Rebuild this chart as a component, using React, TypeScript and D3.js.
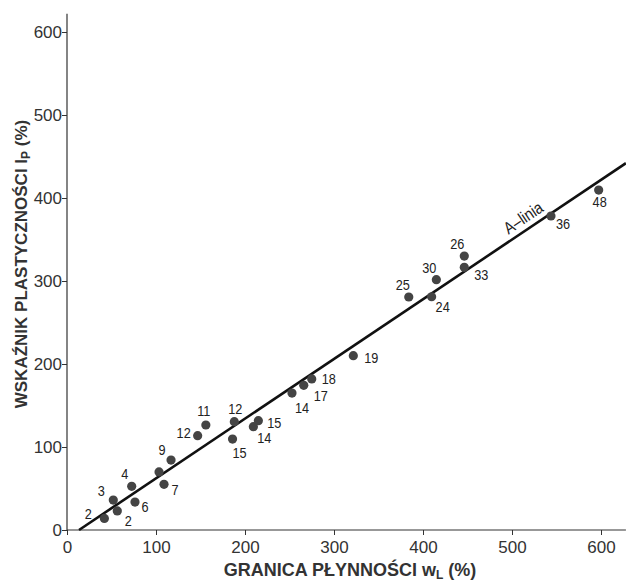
import { useEffect, useRef } from 'react';
import * as d3 from 'd3';

// liquid limit wL (%) and plasticity index Ip (%)
const liquidLimit = [42, 52, 56.5, 72.7, 76.4, 103.4, 116.9, 109, 146.8, 156, 188, 186, 209.4, 215, 252.8, 266, 275, 321.7, 384, 409.7, 415, 446.4, 446.4, 543.8, 597.4];
const plasticityIndex = [14, 36, 23, 52.6, 33.7, 70, 84.3, 55, 113.6, 126.5, 130.5, 109.6, 124.5, 131.7, 165, 174.3, 182, 210, 280.7, 281, 301.6, 316.5, 330, 378.3, 409.6];
const pointLabels = ['2', '3', '2', '4', '6', '', '9', '7', '12', '11', '12', '15', '14', '15', '14', '17', '18', '19', '25', '24', '30', '33', '26', '36', '48'];
const tickValues = [0, 100, 200, 300, 400, 500, 600];

// A-line end points (wL, Ip)
const aLine: [number, number][] = [[13.5, 0], [628, 442]];

// label nudges in px relative to the dot
const labelNudge: [number, number][] = [
  [-16, -5], [-12, -10], [11, 10], [-7, -13], [10, 5], [0, 0], [-9, -10], [11, 5],
  [-14, -3], [-2, -14], [1, -13], [7, 14], [11, 11], [16, 2], [10, 14], [17, 10],
  [17, 0], [18, 2], [-6, -12], [11, 10], [-7, -12], [17, 7], [-7, -13], [12, 8], [1, 12],
];

export default function App() {
  const svgRef = useRef<SVGSVGElement | null>(null);

  useEffect(() => {
    if (!svgRef.current) return;
    const svg = d3.select(svgRef.current);
    svg.selectAll('*').remove();

    const x = d3.scaleLinear().domain([0, 600]).range([67, 601]);
    const y = d3.scaleLinear().domain([0, 600]).range([530, 32]);
    const axisColor = '#333';
    const font = '"Liberation Sans", Arial, sans-serif';

    // axes
    const gx = svg.append('g').attr('transform', `translate(0,${y(0)})`)
      .call(d3.axisBottom(x).tickValues(tickValues).tickSize(5).tickSizeOuter(0).tickFormat(d3.format('d')));
    gx.select('.domain').remove();
    gx.selectAll('line').attr('stroke', axisColor);
    gx.selectAll('text').attr('font-family', font).attr('font-size', 17).attr('fill', axisColor).attr('dy', '0.9em');

    const gy = svg.append('g').attr('transform', `translate(${x(0)},0)`)
      .call(d3.axisLeft(y).tickValues(tickValues).tickSize(5).tickSizeOuter(0).tickFormat(d3.format('d')));
    gy.select('.domain').remove();
    gy.selectAll('line').attr('stroke', axisColor);
    gy.selectAll('text').attr('font-family', font).attr('font-size', 17).attr('fill', axisColor).attr('x', -5);

    svg.append('line')
      .attr('x1', x(0)).attr('x2', x(628)).attr('y1', y(0)).attr('y2', y(0))
      .attr('stroke', axisColor).attr('stroke-width', 1.2);
    svg.append('line')
      .attr('x1', x(0)).attr('x2', x(0)).attr('y1', y(0)).attr('y2', y(622))
      .attr('stroke', axisColor).attr('stroke-width', 1.2);

    // A-line
    svg.append('path')
      .attr('d', d3.line<[number, number]>().x(d => x(d[0])).y(d => y(d[1]))(aLine))
      .attr('stroke', '#111').attr('stroke-width', 2.6).attr('fill', 'none');

    const [p0, p1] = aLine;
    const angle = Math.atan2(y(p1[1]) - y(p0[1]), x(p1[0]) - x(p0[0])) * 180 / Math.PI;
    const labelWl = 520;
    const labelIp = p0[1] + (p1[1] - p0[1]) * (labelWl - p0[0]) / (p1[0] - p0[0]);
    svg.append('text')
      .attr('transform', `translate(${x(labelWl)},${y(labelIp)}) rotate(${angle}) scale(0.85,1)`)
      .attr('y', -6)
      .attr('text-anchor', 'middle')
      .attr('font-family', font).attr('font-size', 17).attr('fill', '#222')
      .text('A–linia');

    // points
    const pts = liquidLimit.map((v, i) => ({ wl: v, ip: plasticityIndex[i], label: pointLabels[i], nudge: labelNudge[i] }));
    svg.append('g').selectAll('circle').data(pts).join('circle')
      .attr('cx', d => x(d.wl)).attr('cy', d => y(d.ip)).attr('r', 4.6)
      .attr('fill', '#444');

    svg.append('g').selectAll('text').data(pts.filter(d => d.label)).join('text')
      .attr('transform', d => `translate(${x(d.wl) + d.nudge[0]},${y(d.ip) + d.nudge[1]}) scale(0.82,1)`)
      .attr('text-anchor', 'middle').attr('dominant-baseline', 'central')
      .attr('font-family', font).attr('font-size', 15.5).attr('fill', '#222')
      .text(d => d.label);

    // axis titles
    const xt = svg.append('text')
      .attr('x', 350).attr('y', 576).attr('text-anchor', 'middle')
      .attr('font-family', font).attr('font-weight', 'bold').attr('font-size', 18).attr('fill', '#333');
    xt.append('tspan').text('GRANICA PŁYNNOŚCI w');
    xt.append('tspan').attr('font-size', 12).attr('dy', 3).text('L');
    xt.append('tspan').attr('dy', -3).text(' (%)');

    const yt = svg.append('text')
      .attr('transform', 'translate(27,264) rotate(-90)').attr('text-anchor', 'middle')
      .attr('font-family', font).attr('font-weight', 'bold').attr('font-size', 17).attr('fill', '#333');
    yt.append('tspan').text('WSKAŹNIK PLASTYCZNOŚCI I');
    yt.append('tspan').attr('font-size', 12).attr('dy', 3).text('P');
    yt.append('tspan').attr('dy', -3).text(' (%)');
  }, []);

  return (
    <div style={{ position: 'absolute', left: 0, top: 0 }}>
      <svg ref={svgRef} width={626} height={582} style={{ display: 'block', background: '#fff' }} />
    </div>
  );
}
